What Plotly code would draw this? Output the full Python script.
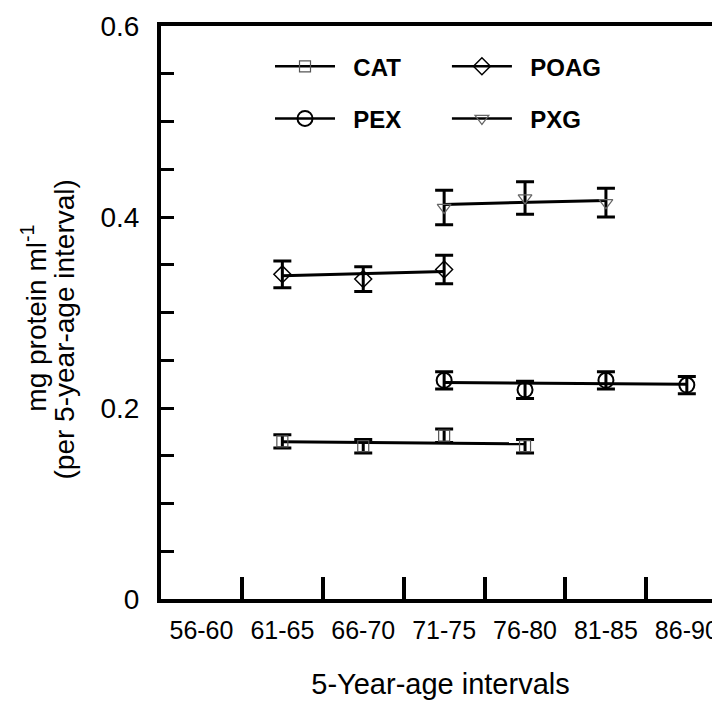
import plotly.graph_objects as go

# ---------------- data ----------------
AGE_GROUPS = ["56-60", "61-65", "66-70", "71-75", "76-80", "81-85", "86-90"]

CAT_X = ["61-65", "66-70", "71-75", "76-80"]
CAT_Y = [0.165, 0.160, 0.171, 0.160]
CAT_ERR = [0.007, 0.007, 0.007, 0.007]
CAT_FIT = [0.1646, 0.1625]

POAG_X = ["61-65", "66-70", "71-75"]
POAG_Y = [0.340, 0.335, 0.345]
POAG_ERR = [0.014, 0.013, 0.015]
POAG_FIT = [0.3385, 0.3430]

PEX_X = ["71-75", "76-80", "81-85", "86-90"]
PEX_Y = [0.229, 0.219, 0.229, 0.224]
PEX_ERR = [0.009, 0.009, 0.009, 0.009]
PEX_FIT = [0.2267, 0.2250]

PXG_X = ["71-75", "76-80", "81-85"]
PXG_Y = [0.410, 0.420, 0.415]
PXG_ERR = [0.018, 0.017, 0.015]
PXG_FIT = [0.4132, 0.4174]

Y_TICK_VALUES = [0, 0.05, 0.1, 0.15, 0.2, 0.25, 0.3, 0.35, 0.4, 0.45, 0.5, 0.55, 0.6]
Y_TICK_TEXT = ["0", "", "", "", "0.2", "", "", "", "0.4", "", "", "", "0.6"]

X_TITLE = "5-Year-age intervals"
Y_TITLE_1 = "mg protein ml<sup>-1</sup>"
Y_TITLE_2 = "(per 5-year-age interval)"

FONT = "Arial, 'Liberation Sans', Helvetica, sans-serif"
NB = "\u00a0\u00a0"

series = [
    # name, x, y, err, fit, symbol, size, marker colour, marker line width, legend id, legend x, legend y
    ("CAT", CAT_X, CAT_Y, CAT_ERR, CAT_FIT, "square-open", 11, "#555555", 1.2, "legend", 0.195, 0.929),
    ("POAG", POAG_X, POAG_Y, POAG_ERR, POAG_FIT, "diamond-open", 13, "#000000", 1.5, "legend2", 0.5115, 0.929),
    ("PEX", PEX_X, PEX_Y, PEX_ERR, PEX_FIT, "circle-open", 15, "#000000", 2.0, "legend3", 0.195, 0.838),
    ("PXG", PXG_X, PXG_Y, PXG_ERR, PXG_FIT, "triangle-down-open", 12, "#666666", 1.2, "legend4", 0.5115, 0.838),
]

fig = go.Figure()

legend_layout = {}
for name, xs, ys, errs, fit, sym, size, mcol, mlw, leg, lx, ly in series:
    # fitted trend line
    fig.add_trace(go.Scatter(
        x=[xs[0], xs[-1]], y=fit, mode="lines",
        line=dict(color="black", width=3), showlegend=False, hoverinfo="skip",
    ))
    # means with error bars
    fig.add_trace(go.Scatter(
        x=xs, y=ys, mode="markers", name=name, showlegend=False,
        marker=dict(symbol=sym, size=size, color=mcol, line=dict(color=mcol, width=mlw)),
        error_y=dict(type="data", array=errs, visible=True, color="black",
                     thickness=3, width=9),
    ))
    # legend entry
    fig.add_trace(go.Scatter(
        x=[None], y=[None], mode="lines+markers", name=NB + name, legend=leg,
        line=dict(color="black", width=2.5),
        marker=dict(symbol=sym, size=size, color=mcol, line=dict(color=mcol, width=mlw)),
    ))
    legend_layout[leg] = dict(
        x=lx, y=ly, xanchor="left", yanchor="middle",
        orientation="h", itemwidth=60, bgcolor="rgba(0,0,0,0)",
        font=dict(family=FONT, size=24, color="black", weight="bold"),
    )

fig.update_layout(
    width=712, height=694,
    margin=dict(l=153, r=0, t=18, b=103, pad=0),
    paper_bgcolor="white", plot_bgcolor="white",
    font=dict(family=FONT, color="black"),
    showlegend=True,
    annotations=[
        dict(text=Y_TITLE_1, xref="paper", yref="paper", x=-0.2264, y=0.490,
             xanchor="center", yanchor="middle", textangle=-90, showarrow=False,
             font=dict(family=FONT, size=28, color="black")),
        dict(text=Y_TITLE_2, xref="paper", yref="paper", x=-0.1729, y=0.471,
             xanchor="center", yanchor="middle", textangle=-90, showarrow=False,
             font=dict(family=FONT, size=28, color="black")),
    ],
    **legend_layout,
)

fig.update_xaxes(
    type="category", categoryorder="array", categoryarray=AGE_GROUPS,
    range=[-0.5, 6.41],
    showline=True, linewidth=4, linecolor="black", mirror=True,
    ticks="inside", tickson="boundaries", ticklen=22, tickwidth=3.5, tickcolor="black",
    showgrid=False, zeroline=False,
    tickfont=dict(family=FONT, size=25, color="black"),
    ticklabelstandoff=6,
    title=dict(text=X_TITLE, font=dict(family=FONT, size=29, color="black"), standoff=32),
)

fig.update_yaxes(
    range=[0, 0.6],
    showline=True, linewidth=4, linecolor="black", mirror=False,
    ticks="inside", ticklen=13, tickwidth=3, tickcolor="black",
    tickvals=Y_TICK_VALUES, ticktext=Y_TICK_TEXT,
    showgrid=False, zeroline=False,
    tickfont=dict(family=FONT, size=28, color="black"),
    ticklabelstandoff=12,
)

fig.write_html("out.html")
